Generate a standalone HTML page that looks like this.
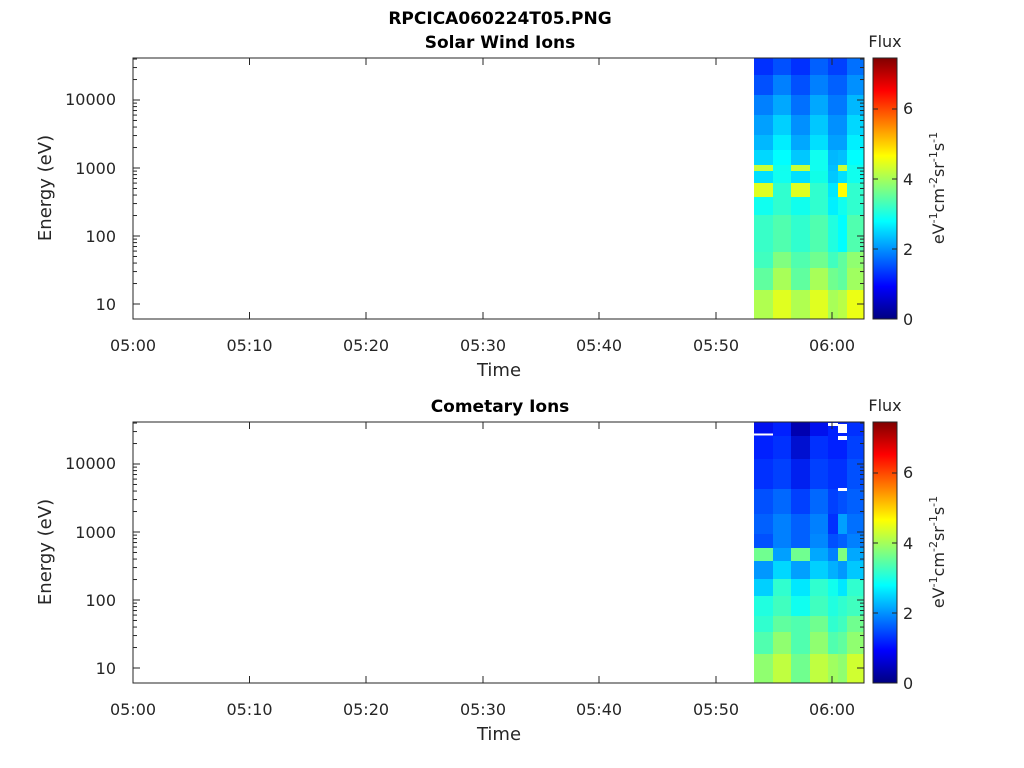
<!DOCTYPE html>
<html><head><meta charset="utf-8"><style>
body{margin:0;background:#fff}
svg{display:block;font-family:"DejaVu Sans","Liberation Sans",sans-serif}
</style></head><body>
<svg id="s" width="1024" height="768" xmlns="http://www.w3.org/2000/svg">
<defs>
<linearGradient id="jet" x1="0" y1="1" x2="0" y2="0">
<stop offset="0" stop-color="#000080"/><stop offset="0.125" stop-color="#0000ff"/>
<stop offset="0.375" stop-color="#00ffff"/><stop offset="0.625" stop-color="#ffff00"/>
<stop offset="0.875" stop-color="#ff0000"/><stop offset="1" stop-color="#800000"/>
</linearGradient>
</defs>
<g id="g"></g>
<text x="500" y="24" font-size="17" font-weight="bold" text-anchor="middle">RPCICA060224T05.PNG</text>
<text x="500" y="48" font-size="17" font-weight="bold" text-anchor="middle">Solar Wind Ions</text>
<text x="500" y="412" font-size="17" font-weight="bold" text-anchor="middle">Cometary Ions</text>
<g font-size="16" fill="#262626">
<text x="885" y="47" text-anchor="middle">Flux</text>
<text x="885" y="411" text-anchor="middle">Flux</text>
<g text-anchor="end">
<text x="116" y="105">10000</text><text x="116" y="174">1000</text><text x="116" y="242">100</text><text x="116" y="310">10</text>
<text x="116" y="469">10000</text><text x="116" y="538">1000</text><text x="116" y="606">100</text><text x="116" y="674">10</text>
</g>
<g text-anchor="start">
<text x="903" y="114">6</text><text x="903" y="185">4</text><text x="903" y="255">2</text><text x="903" y="325">0</text>
<text x="903" y="478">6</text><text x="903" y="549">4</text><text x="903" y="619">2</text><text x="903" y="689">0</text>
</g>
<g text-anchor="middle">
<text x="133" y="351">05:00</text><text x="249.5" y="351">05:10</text><text x="366" y="351">05:20</text><text x="483" y="351">05:30</text><text x="599" y="351">05:40</text><text x="716" y="351">05:50</text><text x="832" y="351">06:00</text>
<text x="133" y="715">05:00</text><text x="249.5" y="715">05:10</text><text x="366" y="715">05:20</text><text x="483" y="715">05:30</text><text x="599" y="715">05:40</text><text x="716" y="715">05:50</text><text x="832" y="715">06:00</text>
<text x="499" y="376" font-size="18">Time</text><text x="499" y="740" font-size="18">Time</text>
<text transform="translate(51,188) rotate(-90)" font-size="18">Energy (eV)</text>
<text transform="translate(51,552) rotate(-90)" font-size="18">Energy (eV)</text>
<text transform="translate(944,188) rotate(-90)">eV<tspan font-size="11" dy="-7">-1</tspan><tspan dy="7">cm</tspan><tspan font-size="11" dy="-7">-2</tspan><tspan dy="7">sr</tspan><tspan font-size="11" dy="-7">-1</tspan><tspan dy="7">s</tspan><tspan font-size="11" dy="-7">-1</tspan></text>
<text transform="translate(944,552) rotate(-90)">eV<tspan font-size="11" dy="-7">-1</tspan><tspan dy="7">cm</tspan><tspan font-size="11" dy="-7">-2</tspan><tspan dy="7">sr</tspan><tspan font-size="11" dy="-7">-1</tspan><tspan dy="7">s</tspan><tspan font-size="11" dy="-7">-1</tspan></text>
</g>
</g>
</svg>
<script>
(function(){
var NS="http://www.w3.org/2000/svg",g=document.getElementById('g');
function el(t,a){var e=document.createElementNS(NS,t);for(var k in a)e.setAttribute(k,a[k]);g.appendChild(e);return e;}
var xs=[754,773,791,810,828,838,847,863];
var topB=[
[58,75,['#0030ff','#0050ff','#0030ff','#0060ff','#0040ff','#0040ff','#0070ff']],
[75,95,['#0050ff','#0080ff','#0050ff','#0080ff','#0060ff','#0060ff','#0090ff']],
[95,115,['#0080ff','#00a8ff','#0070ff','#00a8ff','#0078ff','#0078ff','#00b8ff']],
[115,135,['#00a0ff','#00d0ff','#0090ff','#00c8ff','#0090ff','#0090ff','#00d8ff']],
[135,150,['#00b8ff','#00eeff','#00a8ff','#00e0ff','#00a0ff','#00a0ff','#00f0ff']],
[150,165,['#00d8ff','#00ffff','#00c8ff','#10fff0','#00b8ff','#00c0ff','#00ffff']],
[165,171,['#c8ff38','#10ffee','#c8ff38','#10fff0','#00c0ff','#c8ff38','#10ffee']],
[171,183,['#00e0ff','#10fff0','#00e0ff','#10ffe8','#00c8ff','#00e0ff','#10ffee']],
[183,197,['#e0ff20','#30ffcf','#e0ff20','#30ffcf','#00e8ff','#ffff00','#30ffcf']],
[197,215,['#10fff0','#30ffcf','#10ffee','#30ffcf','#00f0ff','#10ffee','#30ffcf']],
[215,252,['#38ffc8','#50ffaf','#30ffcf','#50ffaf','#20ffe0','#00ffff','#50ffaf']],
[252,268,['#40ffbf','#80ff80','#50ffaf','#70ff8f','#40ffbf','#60ff9f','#90ff70']],
[268,290,['#60ff9f','#a8ff58','#60ff9f','#a8ff58','#70ff8f','#60ff9f','#a0ff60']],
[290,319,['#b0ff50','#e0ff20','#b0ff50','#e0ff20','#a8ff58','#b8ff48','#ecff14']]];
var botB=[
[58,72,['#0010f0','#0020ff','#0000b0','#0010ee','#0020ff','#0020ff','#0030ff']],
[72,95,['#0020ff','#0030ff','#0010d0','#0030ff','#0020ff','#0020ff','#0040ff']],
[95,125,['#0030ff','#0040ff','#0020f0','#0040ff','#0030ff','#0030ff','#0050ff']],
[125,150,['#0050ff','#0068ff','#0040ff','#0068ff','#0040ff','#0050ff','#0060ff']],
[150,170,['#0060ff','#0080ff','#0060ff','#0080ff','#0030ff','#00a0ff','#0070ff']],
[170,184,['#0050ff','#0080ff','#0060ff','#0088ff','#0050ff','#0060ff','#0080ff']],
[184,197,['#70ff90','#00a0ff','#70ff90','#00a8ff','#0080ff','#80ff80','#00a8ff']],
[197,215,['#0098ff','#00d8ff','#00a0ff','#00d0ff','#00b0ff','#0098ff','#00c8ff']],
[215,232,['#00d0ff','#30ffcf','#00e8ff','#30ffcf','#10ffee','#00e8ff','#30ffcf']],
[232,252,['#20ffe0','#40ffbf','#10fff0','#40ffbf','#20ffe0','#30ffcf','#40ffbf']],
[252,268,['#30ffcf','#60ff9f','#50ffaf','#70ff8f','#30ffcf','#40ffbf','#70ff8f']],
[268,290,['#50ffaf','#90ff70','#50ffaf','#90ff70','#50ffaf','#60ff9f','#90ff70']],
[290,319,['#90ff70','#c0ff40','#70ff8f','#c0ff40','#a0ff60','#90ff70','#d0ff30']]];
function heat(b,off){b.forEach(function(r){for(var i=0;i<7;i++)el('rect',{x:xs[i],y:r[0]+off,width:xs[i+1]-xs[i]+0.5,height:r[1]-r[0]+0.5,fill:r[2][i]});});}
heat(topB,0);heat(botB,364);
[[754,433.5,19,2],[828,423,10,3],[838,424,9,9],[838,436,9,4],[838,488,9,3]].forEach(function(r){el('rect',{x:r[0],y:r[1],width:r[2],height:r[3],fill:'#fff'});});
function axes(off){
 var y0=58+off,y1=319+off;
 el('rect',{x:133,y:y0,width:731,height:261,fill:'none',stroke:'#262626','stroke-width':1});
 [133,249.5,366,483,599,716,832].forEach(function(x){el('line',{x1:x,x2:x,y1:y1,y2:y1-7,stroke:'#262626'});el('line',{x1:x,x2:x,y1:y0,y2:y0+7,stroke:'#262626'});});
 for(var d=0;d<5;d++){for(var k=1;k<10;k++){var y=304+off-68*(d+Math.log(k)/Math.LN10);if(y<y0||y>y1)continue;var L=k==1?7:4;
  el('line',{x1:133,x2:133+L,y1:y,y2:y,stroke:'#262626'});el('line',{x1:864,x2:864-L,y1:y,y2:y,stroke:'#262626'});}}
 el('rect',{x:873,y:y0,width:24,height:261,fill:'url(#jet)',stroke:'#262626'});
 [0,2,4,6].forEach(function(v){var y=y1-v*35;el('line',{x1:897,x2:892,y1:y,y2:y,stroke:'#262626'});el('line',{x1:873,x2:878,y1:y,y2:y,stroke:'#262626'});});
}
axes(0);axes(364);
})();
</script>
</body></html>
